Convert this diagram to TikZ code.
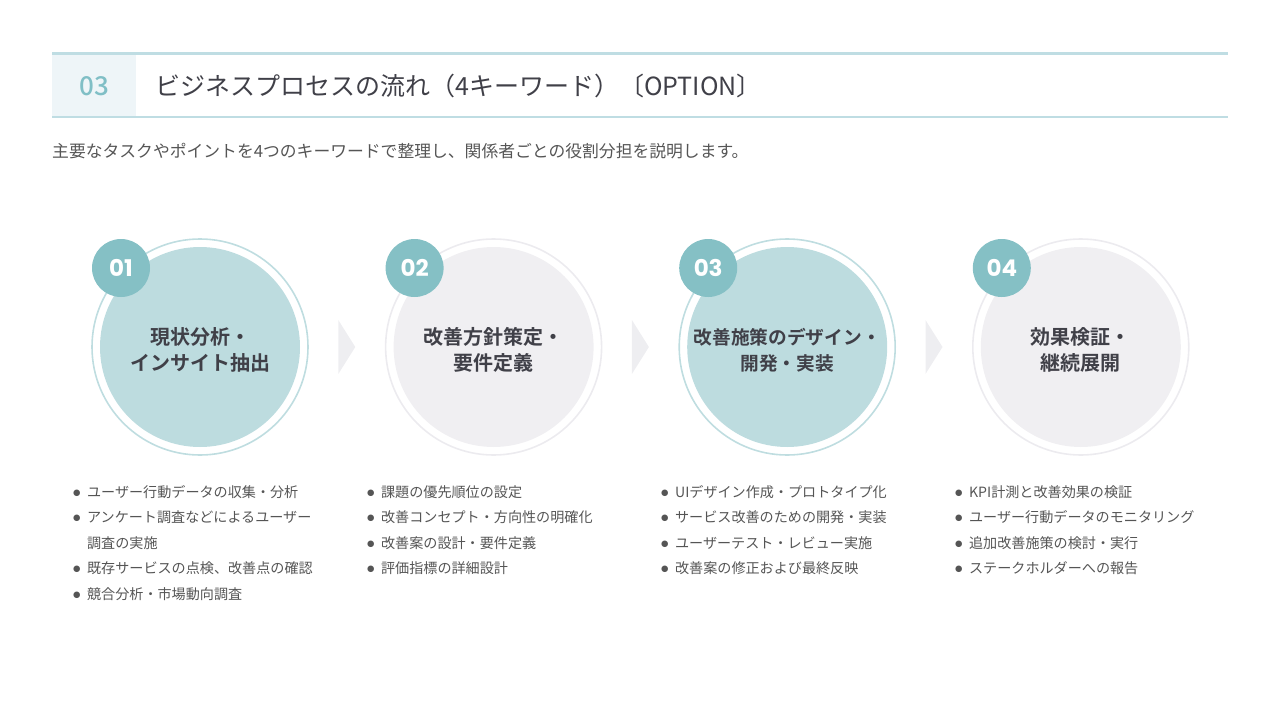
\documentclass[tikz,border=0pt]{standalone}
\usepackage{fontspec}
\setmainfont{Noto Sans CJK JP}[BoldFont={* Bold}]
\newfontfamily\medfont{Noto Sans CJK JP Medium}
\newfontfamily\numfont{Poppins}
\newfontfamily\dotfont{DejaVu Sans}
\usetikzlibrary{positioning,calc}

\definecolor{headline}{HTML}{BFDDE3}
\definecolor{boxbg}{HTML}{EEF5F8}
\definecolor{numteal}{HTML}{80BFC6}
\definecolor{titlegray}{HTML}{404048}
\definecolor{textgray}{HTML}{555555}
\definecolor{tealfill}{HTML}{BDDCDF}
\definecolor{grayfill}{HTML}{F0EFF2}
\definecolor{tealring}{HTML}{BFDDE0}
\definecolor{grayring}{HTML}{ECEBEF}
\definecolor{badgeteal}{HTML}{85C0C5}
\definecolor{chevgray}{HTML}{EEEEF1}

\newcommand{\dotitem}{{\dotfont\fontsize{8.5}{8.5}\selectfont\raisebox{0.2em}{●}}}

\begin{document}
\begin{tikzpicture}[x=1pt,y=-1pt,node distance=76pt,
    every node/.style={inner sep=0pt},
    ring/.style={circle,minimum size=216pt,line width=1.6pt},
    disc/.style={circle,minimum size=200pt},
    label/.style={align=center,text=titlegray,
      font=\fontsize{20}{26}\selectfont\bfseries},
    badge/.style={circle,minimum size=58pt,fill=badgeteal,text=white,
      font=\numfont\fontsize{23}{23}\selectfont\bfseries},
    tasks/.style={anchor=base west,text=textgray,
      font=\fontsize{14.1}{25.5}\selectfont}]
  \tikzstyle{chev}=[fill=chevgray]
  \useasboundingbox (0,0) rectangle (1280,720);

  % header
  \fill[boxbg] (52,55) rectangle (136,116);
  \draw[headline,line width=3pt] (52,53.5) -- (1228,53.5);
  \draw[headline,line width=1.8pt] (52,117) -- (1228,117);
  \node[text=numteal,font=\medfont\fontsize{26}{26}\selectfont] (num) at (94,86) {03};
  \node[anchor=base west,text=titlegray,font=\fontsize{25}{25}\selectfont]
    (title) at (155,95) {ビジネスプロセスの流れ（4キーワード）〔OPTION〕};
  \node[anchor=base west,text=textgray,font=\fontsize{16.8}{16.8}\selectfont]
    (sub) at (52,157) {主要なタスクやポイントを4つのキーワードで整理し、関係者ごとの役割分担を説明します。};

  % steps
  \node[ring,draw=tealring] (r1) at (200,347) {};
  \node[ring,draw=grayring] (r2) [right=of r1] {};
  \node[ring,draw=tealring] (r3) [right=of r2] {};
  \node[ring,draw=grayring] (r4) [right=of r3] {};

  \node[disc,fill=tealfill] (c1) at (r1) {};
  \node[disc,fill=grayfill] (c2) at (r2) {};
  \node[disc,fill=tealfill] (c3) at (r3) {};
  \node[disc,fill=grayfill] (c4) at (r4) {};

  \node[label] (l1) at ($(c1)+(0,3)$) {現状分析・\\インサイト抽出};
  \node[label] (l2) at ($(c2)+(0,3)$) {改善方針策定・\\要件定義};
  \node[label,font=\fontsize{18.7}{26}\selectfont\bfseries]
    (l3) at ($(c3)+(0,3)$) {改善施策のデザイン・\\開発・実装};
  \node[label] (l4) at ($(c4)+(0,3)$) {効果検証・\\継続展開};

  \foreach \i in {1,...,4}
    \node[badge] (b\i) at ($(r\i)+(-79,-79)$) {0\i};

  % chevrons
  \foreach \a/\b in {r1/r2,r2/r3,r3/r4}
    \fill[chev] ($(\a.east)!0.5!(\b.west)+(-8.5,-27)$) -- ++(17,27) -- ++(-17,27) -- cycle;

  % task lists
  \node[tasks] (t1) at (73,497) {\begin{tabular}[t]{@{}c@{\hspace{6.5pt}}l@{}}
    \dotitem & ユーザー行動データの収集・分析\\
    \dotitem & アンケート調査などによるユーザー\\
             & 調査の実施\\
    \dotitem & 既存サービスの点検、改善点の確認\\
    \dotitem & 競合分析・市場動向調査
  \end{tabular}};
  \node[tasks] (t2) at (367,497) {\begin{tabular}[t]{@{}c@{\hspace{6.5pt}}l@{}}
    \dotitem & 課題の優先順位の設定\\
    \dotitem & 改善コンセプト・方向性の明確化\\
    \dotitem & 改善案の設計・要件定義\\
    \dotitem & 評価指標の詳細設計
  \end{tabular}};
  \node[tasks] (t3) at (661,497) {\begin{tabular}[t]{@{}c@{\hspace{6.5pt}}l@{}}
    \dotitem & UIデザイン作成・プロトタイプ化\\
    \dotitem & サービス改善のための開発・実装\\
    \dotitem & ユーザーテスト・レビュー実施\\
    \dotitem & 改善案の修正および最終反映
  \end{tabular}};
  \node[tasks] (t4) at (955,497) {\begin{tabular}[t]{@{}c@{\hspace{6.5pt}}l@{}}
    \dotitem & KPI計測と改善効果の検証\\
    \dotitem & ユーザー行動データのモニタリング\\
    \dotitem & 追加改善施策の検討・実行\\
    \dotitem & ステークホルダーへの報告
  \end{tabular}};
\end{tikzpicture}
\end{document}
